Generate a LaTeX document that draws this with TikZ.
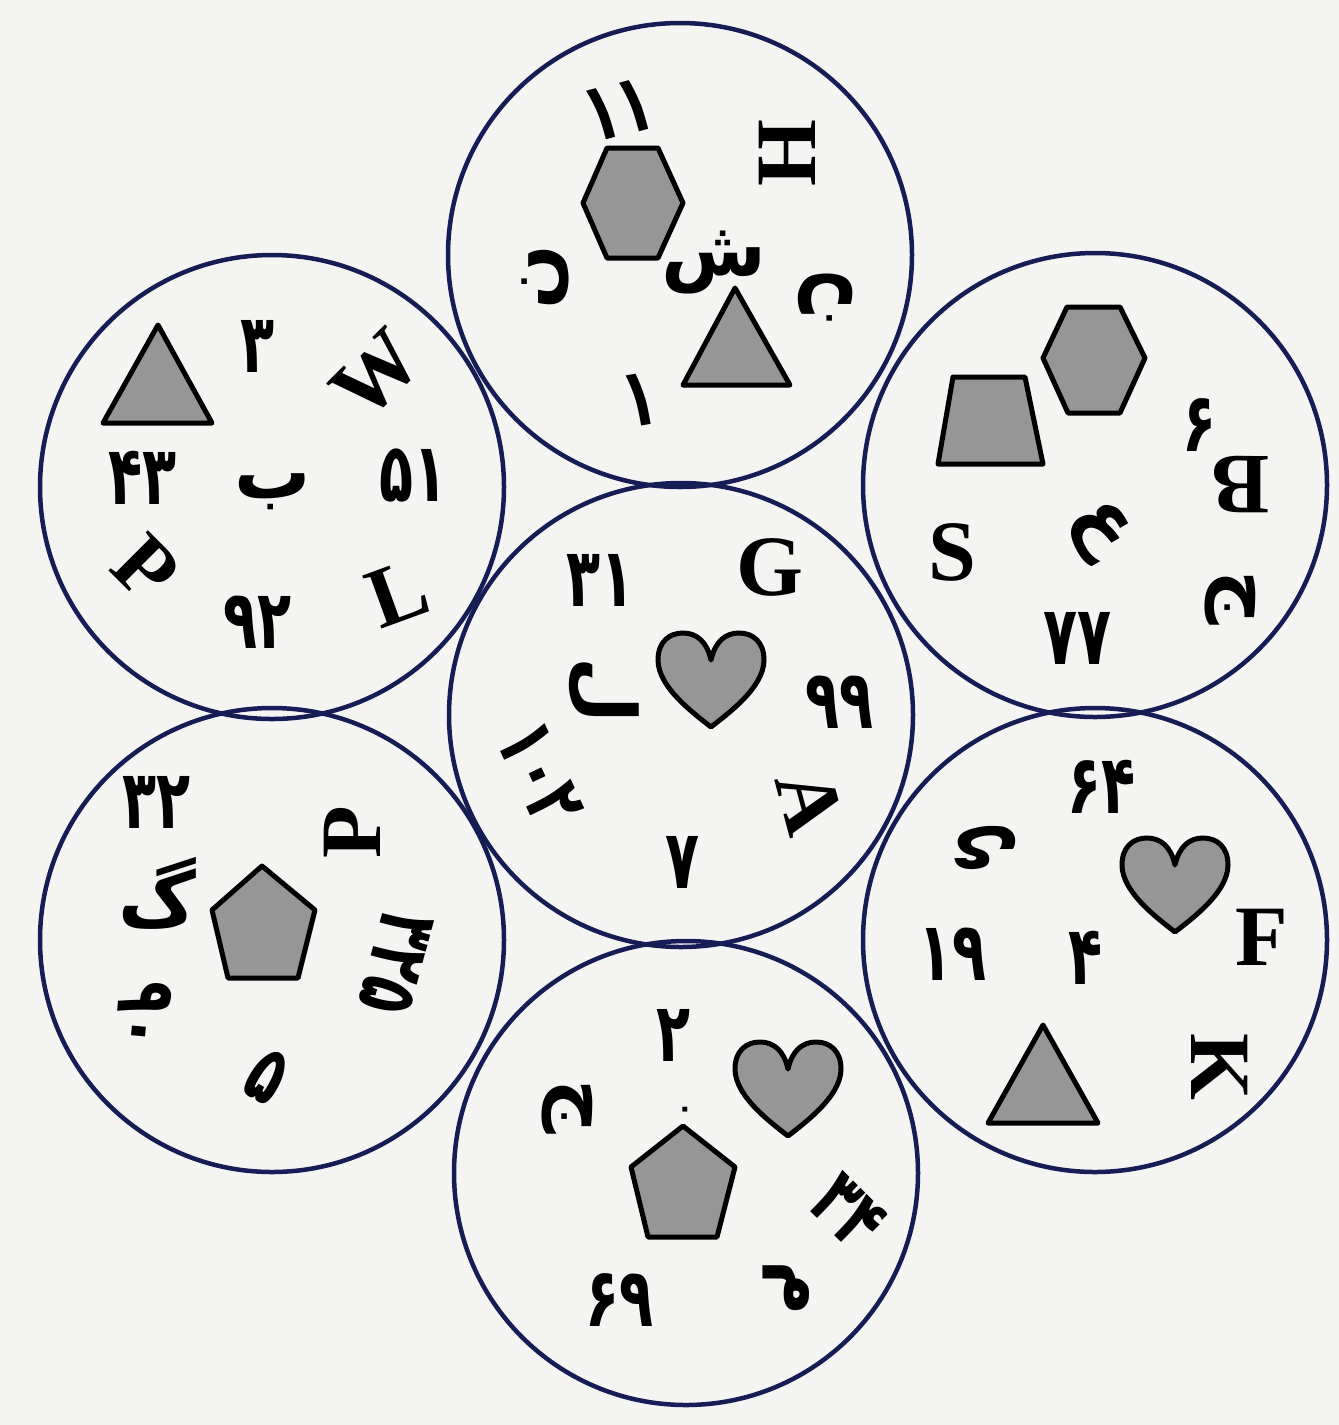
\documentclass[tikz,border=0pt]{standalone}
\usepackage{fontspec}
\setmainfont{Liberation Serif}
\newfontfamily\fa[Script=Arabic]{DejaVu Sans}
\TeXXeTstate=1
\definecolor{ringblue}{RGB}{22,28,84}
\definecolor{shapegray}{RGB}{150,150,150}
\definecolor{paper}{RGB}{244,244,242}
\begin{document}
\begin{tikzpicture}[x=1pt,y=-1pt,
  ring/.style={circle,draw=ringblue,line width=4.5pt,minimum size=464pt,inner sep=0pt},
  shp/.style={draw=black,fill=shapegray,line width=5pt,line join=round},
  lat/.style={inner sep=0pt,font=\fontsize{86}{86}\selectfont\bfseries},
  fanum/.style={inner sep=0pt,xscale=0.68,font=\fa\fontsize{82}{82}\selectfont\bfseries},
  falet/.style={inner sep=0pt,font=\fa\fontsize{76}{76}\selectfont\bfseries},
  heart/.pic={\draw[shp] (0,47) .. controls (-15,35) and (-53,8) .. (-53,-20)
     .. controls (-53,-38) and (-42,-47) .. (-28,-47)
     .. controls (-14,-47) and (-4,-38) .. (0,-20)
     .. controls (4,-38) and (14,-47) .. (28,-47)
     .. controls (42,-47) and (53,-38) .. (53,-20)
     .. controls (53,8) and (15,35) .. (0,47) -- cycle;}
]
\fill[paper] (0,0) rectangle (1339,1425);
\useasboundingbox (0,0) rectangle (1339,1425);

% circles
\node[ring] (cT) at (680,255) {};
\node[ring] (cUL) at (272,487) {};
\node[ring] (cUR) at (1095,485) {};
\node[ring] (cC) at (681,715) {};
\node[ring] (cLL) at (272,940) {};
\node[ring] (cLR) at (1095,940) {};
\node[ring] (cB) at (686,1173) {};

% ---- top circle
\node[rotate=15,fanum] (t11) at (619,110) {۱۱};
\draw[shp] (583,203) -- (607,148) -- (658,148) -- (683,203) -- (658,258) -- (607,258) -- cycle;
\node[rotate=90,lat] (tH) at (787,153) {H};
\node[falet] (tSh) at (714,263) {\beginR ش\endR};
\node[rotate=90,falet] (tN1) at (545,277) {\beginR ن\endR};
\node[rotate=180,falet] (tN2) at (825,298) {\beginR ن\endR};
\draw[shp] (735,288) -- (790,385) -- (683,385) -- cycle;
\node[rotate=10,fanum] (t1) at (640,400) {۱};

% ---- upper-left circle
\draw[shp] (158,325) -- (212,423) -- (103,423) -- cycle;
\node[fanum] (ul3) at (258,346) {۳};
\node[rotate=45,lat] (ulW) at (376,375) {W};
\node[fanum] (ul43) at (143,478) {۴۳};
\node[falet] (ulB) at (273,492) {\beginR ب\endR};
\node[fanum] (ul51) at (414,475) {۵۱};
\node[rotate=-45,lat] (ulP) at (146,568) {P};
\node[fanum] (ul92) at (258,622) {۹۲};
\node[rotate=20,lat] (ulL) at (398,593) {L};

% ---- upper-right circle
\draw[shp] (1043,358) -- (1067,307) -- (1120,307) -- (1145,358) -- (1120,413) -- (1068,413) -- cycle;
\draw[shp] (953,377) -- (1025,377) -- (1043,464) -- (938,464) -- cycle;
\node[fanum] (ur6) at (1200,425) {۶};
\node[rotate=180,lat] (urB) at (1241,485) {B};
\node[lat] (urS) at (952,552) {S};
\node[rotate=-60,falet] (urAin) at (1099,530) {\beginR ع\endR};
\node[rotate=-90,falet] (urJ) at (1230,598) {\beginR ج\endR};
\node[fanum] (ur77) at (1078,638) {۷۷};

% ---- centre circle
\node[fanum] (c31) at (601,580) {۳۱};
\node[lat] (cG) at (770,567) {G};
\pic (cHeart) at (711,680) {heart};
\node[rotate=-90,falet] (cL) at (603,690) {\beginR ل\endR};
\node[fanum] (c99) at (840,702) {۹۹};
\node[rotate=-65,fanum] (c102) at (540,774) {۱۰۲};
\node[rotate=-75,lat] (cA) at (810,802) {A};
\node[fanum] (c7) at (683,862) {۷};

% ---- lower-left circle
\node[fanum] (ll32) at (157,802) {۳۲};
\node[rotate=90,lat] (llP) at (352,832) {P};
\node[falet] (llG) at (157,893) {\beginR گ\endR};
\draw[shp] (262,866) -- (315,910) -- (298,978) -- (228,978) -- (212,910) -- cycle;
\node[rotate=-105,fanum] (ll325) at (396,963) {۳۲۵};
\node[rotate=-95,fanum] (ll90) at (144,1015) {۹۰};
\node[rotate=-30,fanum] (ll5) at (267,1076) {۵};

% ---- lower-right circle
\node[fanum] (lr64) at (1102,787) {۶۴};
\node[rotate=180,falet] (lrY) at (986,848) {\beginR ی\endR};
\pic (lrHeart) at (1175,885) {heart};
\node[lat] (lrF) at (1262,937) {F};
\node[fanum] (lr19) at (953,954) {۱۹};
\node[fanum] (lr4) at (1086,958) {۴};
\draw[shp] (1043,1025) -- (1098,1123) -- (988,1123) -- cycle;
\node[rotate=-90,lat] (lrK) at (1220,1067) {K};

% ---- bottom circle
\node[fanum] (b2) at (674,1035) {۲};
\node[inner sep=0pt,font=\fa\fontsize{28}{28}\selectfont\bfseries] (b0) at (685,1112) {۰};
\node[rotate=-90,falet] (bJ) at (567,1107) {\beginR ج\endR};
\pic (bHeart) at (788,1089) {heart};
\draw[shp] (683,1126) -- (735,1167) -- (717,1237) -- (648,1237) -- (631,1167) -- cycle;
\node[rotate=-45,fanum] (b34) at (848,1212) {۳۴};
\node[rotate=-90,falet] (bM) at (786,1288) {\beginR م\endR};
\node[fanum] (b69) at (620,1300) {۶۹};
\end{tikzpicture}
\end{document}
